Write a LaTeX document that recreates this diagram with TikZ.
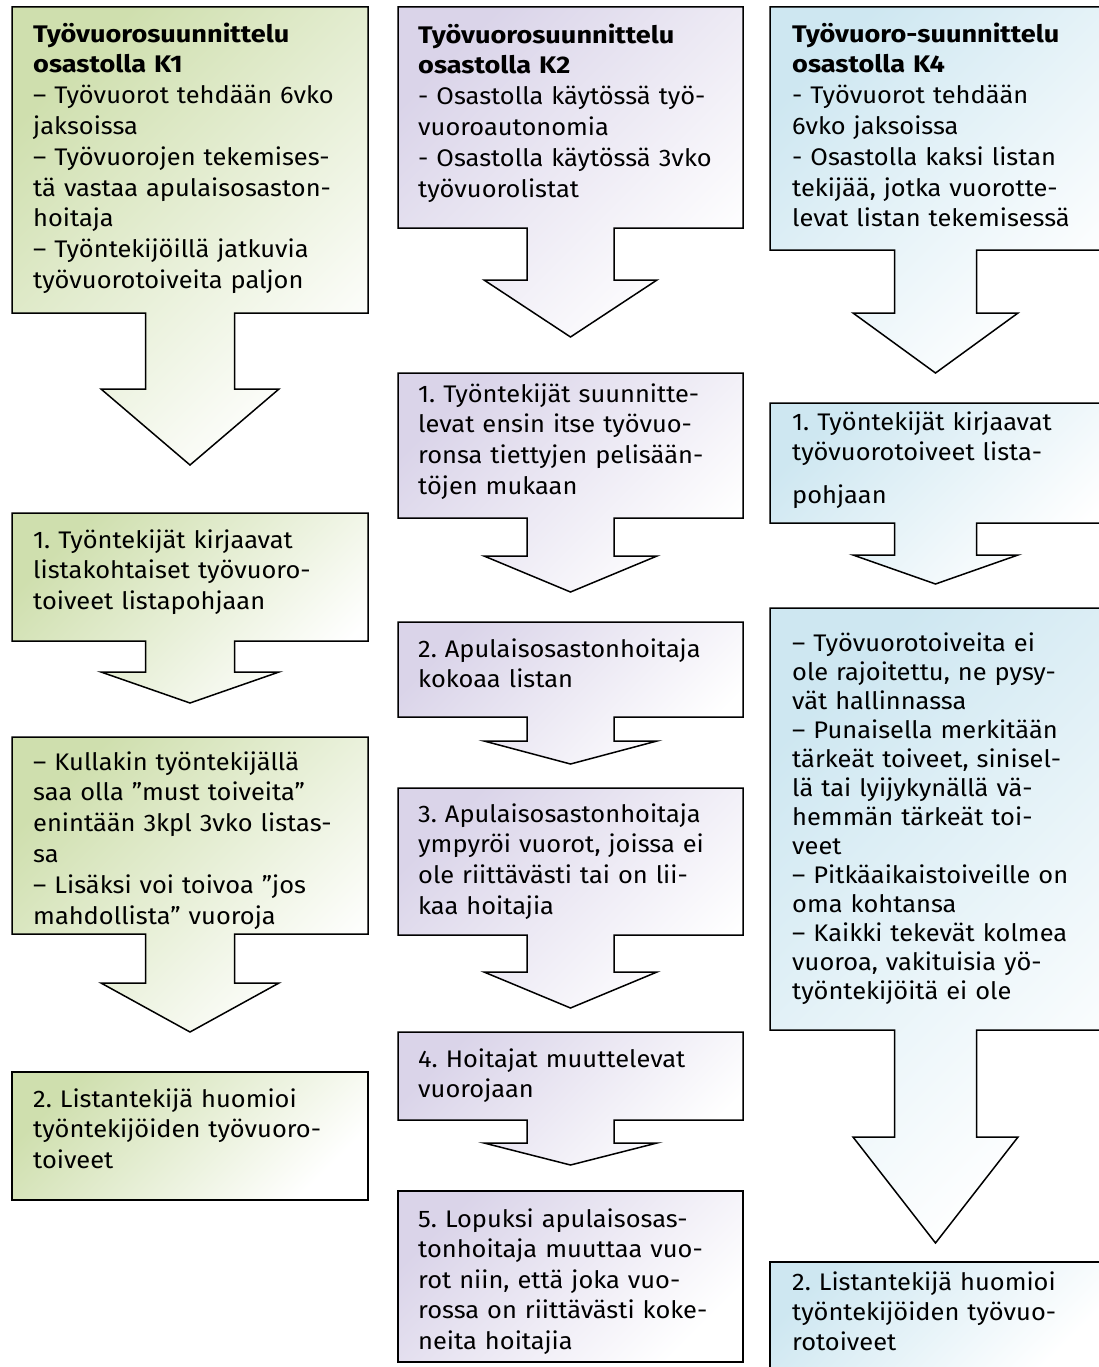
\documentclass[tikz,border=0pt]{standalone}
\usepackage{fontspec}
\setmainfont{Fira Sans}[FakeStretch=1.06, BoldFeatures={FakeStretch=1.13}]
\definecolor{kgreen}{RGB}{207,223,174}
\definecolor{kpurple}{RGB}{218,212,233}
\definecolor{kblue}{RGB}{206,231,241}
\tikzset{
  shapeK1/.style={draw=black, line width=1.5pt, line join=miter, top color=kgreen, bottom color=white, shading angle=45},
  shapeK2/.style={draw=black, line width=1.5pt, line join=miter, top color=kpurple, bottom color=white, shading angle=45},
  shapeK4/.style={draw=black, line width=1.5pt, line join=miter, top color=kblue, bottom color=white, shading angle=45},
  txt/.style={anchor=north west, inner sep=0pt, align=left, text width=360pt, font=\fontsize{24}{#1}\selectfont\frenchspacing},
  txt/.default=30.8
}
% #1 style, #2 L, #3 R, #4 T, #5 B, #6 shoulder, #7 tip, #8 stem half width, #9 head half width
\newcommand\arrowshape[9]{%
  \path[#1] (#2,#4) -- (#3,#4) -- (#3,#5)
    -- ({(#2+#3)/2+#8},#5) -- ({(#2+#3)/2+#8},#6) -- ({(#2+#3)/2+#9},#6)
    -- ({(#2+#3)/2},#7)
    -- ({(#2+#3)/2-#9},#6) -- ({(#2+#3)/2-#8},#6) -- ({(#2+#3)/2-#8},#5)
    -- (#2,#5) -- cycle;}
\begin{document}
\begin{tikzpicture}[x=1pt,y=-1pt]
\useasboundingbox (0,0) rectangle (1098,1367);
\fill[white] (0,0) rectangle (1098,1367);

% ---------- Column K1 ----------
\arrowshape{shapeK1}{12}{368}{7}{313}{389}{465}{44.5}{89}
\arrowshape{shapeK1}{12}{368}{513}{641}{672}{703}{44.5}{89}
\arrowshape{shapeK1}{12}{368}{737}{934}{983}{1032}{44.5}{89}
\path[shapeK1] (12,1072) rectangle (368,1200);

\node[txt] (a1) at (33,20.4) {\strut\textbf{Työvuorosuunnittelu}\\\textbf{osastolla K1}\\– Työvuorot tehdään 6vko\\jaksoissa\\– Työvuorojen tekemises-\\tä vastaa apulaisosaston-\\hoitaja\\– Työntekijöillä jatkuvia\\työvuorotoiveita paljon};
\node[txt] (a2) at (33,526.4) {\strut 1. Työntekijät kirjaavat\\listakohtaiset työvuoro-\\toiveet listapohjaan};
\node[txt] (a3) at (33,748.4) {\strut – Kullakin työntekijällä\\saa olla ”must toiveita”\\enintään 3kpl 3vko listas-\\sa\\– Lisäksi voi toivoa ”jos\\mahdollista” vuoroja};
\node[txt] (a4) at (33,1085.4) {\strut 2. Listantekijä huomioi\\työntekijöiden työvuoro-\\toiveet};

% ---------- Column K2 ----------
\arrowshape{shapeK2}{398}{743}{7}{228}{280}{337}{43.5}{86.5}
\arrowshape{shapeK2}{398}{743}{373}{518}{556}{592}{43.5}{86.5}
\arrowshape{shapeK2}{398}{743}{622}{717}{741}{764}{43.5}{86.5}
\arrowshape{shapeK2}{398}{743}{788}{935}{972}{1008}{43.5}{86.5}
\arrowshape{shapeK2}{398}{743}{1032}{1120}{1143}{1165}{43.5}{86.5}
\path[shapeK2] (398,1191) rectangle (743,1362);

\node[txt] (b1) at (418,21.4) {\strut\textbf{Työvuorosuunnittelu}\\\textbf{osastolla K2}\\- Osastolla käytössä työ-\\vuoroautonomia\\- Osastolla käytössä 3vko\\työvuorolistat};
\node[txt] (b2) at (418,380.4) {\strut 1. Työntekijät suunnitte-\\levat ensin itse työvuo-\\ronsa tiettyjen pelisään-\\töjen mukaan};
\node[txt] (b3) at (418,635.4) {\strut 2. Apulaisosastonhoitaja\\kokoaa listan};
\node[txt] (b4) at (418,800.4) {\strut 3. Apulaisosastonhoitaja\\ympyröi vuorot, joissa ei\\ole riittävästi tai on lii-\\kaa hoitajia};
\node[txt] (b5) at (418,1045.4) {\strut 4. Hoitajat muuttelevat\\vuorojaan};
\node[txt=30.5] (b6) at (418,1205.7) {\strut 5. Lopuksi apulaisosas-\\tonhoitaja muuttaa vuo-\\rot niin, että joka vuo-\\rossa on riittävästi koke-\\neita hoitajia};

% ---------- Column K4 ----------
\arrowshape{shapeK4}{770}{1101}{7}{250}{313}{373}{41}{82.5}
\arrowshape{shapeK4}{770}{1101}{403}{523}{555}{584}{41}{82.5}
\arrowshape{shapeK4}{770}{1101}{608}{1030}{1137}{1243}{41}{82.5}
\path[shapeK4] (770,1262) rectangle (1101,1375);

\node[txt] (c1) at (792,20.4) {\strut\textbf{Työvuoro-suunnittelu}\\\textbf{osastolla K4}\\- Työvuorot tehdään\\6vko jaksoissa\\- Osastolla kaksi listan\\tekijää, jotka vuorotte-\\levat listan tekemisessä};
\node[txt] (c2) at (792,408.4) {\strut 1. Työntekijät kirjaavat\\työvuorotoiveet lista-\\[12pt]pohjaan};
\node[txt=29] (c3) at (792,630.7) {\strut – Työvuorotoiveita ei\\ole rajoitettu, ne pysy-\\vät hallinnassa\\– Punaisella merkitään\\tärkeät toiveet, sinisel-\\lä tai lyijykynällä vä-\\hemmän tärkeät toi-\\veet\\– Pitkäaikaistoiveille on\\oma kohtansa\\– Kaikki tekevät kolmea\\vuoroa, vakituisia yö-\\työntekijöitä ei ole};
\node[txt=30] (c4) at (792,1269) {\strut 2. Listantekijä huomioi\\työntekijöiden työvuo-\\rotoiveet};
\end{tikzpicture}
\end{document}
